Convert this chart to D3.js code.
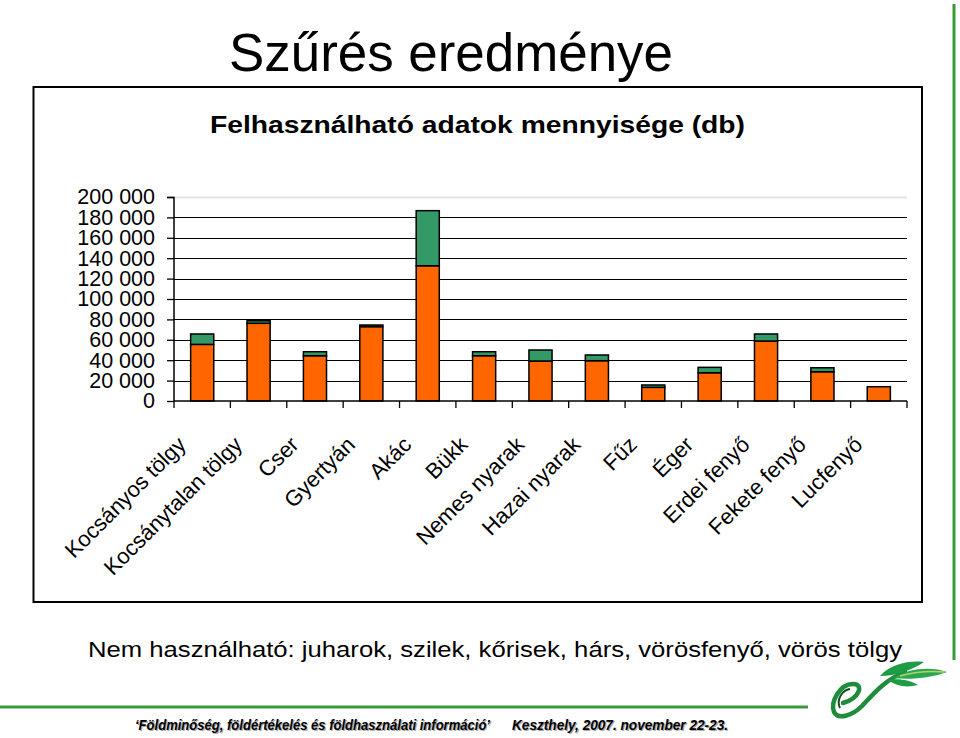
<!DOCTYPE html>
<html>
<head>
<meta charset="utf-8">
<script src="https://cdn.jsdelivr.net/npm/d3@7/dist/d3.min.js"></script>
<style>
  html, body { margin: 0; padding: 0; background: #fff; }
  svg { display: block; }
  text { font-family: "Liberation Sans", Arial, sans-serif; }
</style>
</head>
<body>
<svg id="chart" width="960" height="738"></svg>
<script>
// ---- data ----
const categories = ["Kocsányos tölgy", "Kocsánytalan tölgy", "Cser", "Gyertyán", "Akác", "Bükk",
  "Nemes nyarak", "Hazai nyarak", "Fűz", "Éger", "Erdei fenyő", "Fekete fenyő", "Lucfenyő"];
const seriesOrange = [55500, 76200, 44400, 72900, 132600, 44400, 39200, 39500, 13400, 27700, 58800, 28700, 14000];
const seriesGreen  = [10200, 2500, 3900, 1600, 54000, 3900, 10800, 5600, 2300, 5300, 6900, 3900, 0];
const yTicks = [0, 20000, 40000, 60000, 80000, 100000, 120000, 140000, 160000, 180000, 200000];
const titleText = "Szűrés eredménye";
const subtitleText = "Felhasználható adatok mennyisége (db)";
const noteText = "Nem használható: juharok, szilek, kőrisek, hárs, vörösfenyő, vörös tölgy";
const footerLeft = "‘Földminőség, földértékelés és földhasználati információ’";
const footerRight = "Keszthely, 2007. november 22-23.";

const svg = d3.select("#chart");
const fmt = d3.formatLocale({decimal: ",", thousands: " ", grouping: [3], currency: ["", ""]}).format(",d");

// decorative green lines
svg.append("line").attr("x1", 954).attr("x2", 954).attr("y1", 4).attr("y2", 660)
  .attr("stroke", "#3a9a3a").attr("stroke-width", 3);
svg.append("line").attr("x1", 0).attr("x2", 808).attr("y1", 707).attr("y2", 707)
  .attr("stroke", "#3a9a3a").attr("stroke-width", 3);

// title
svg.append("text").attr("x", 229).attr("y", 71).attr("font-size", 54)
  .attr("textLength", 444).attr("lengthAdjust", "spacingAndGlyphs").text(titleText);

// frame
svg.append("rect").attr("x", 33.5).attr("y", 87).attr("width", 888.5).attr("height", 515)
  .attr("fill", "none").attr("stroke", "#000").attr("stroke-width", 2);

// subtitle
svg.append("text").attr("x", 210).attr("y", 133).attr("font-size", 24).attr("font-weight", "bold")
  .attr("textLength", 535).attr("lengthAdjust", "spacingAndGlyphs").text(subtitleText);

// scales
const x = d3.scaleBand().domain(categories).range([174, 907]).paddingInner(0.59).paddingOuter(0.295);
const y = d3.scaleLinear().domain([0, 200000]).range([401, 197]);

// gridlines
const grid = svg.append("g");
grid.selectAll("line").data(yTicks.filter(d => d > 0)).join("line")
  .attr("x1", 174).attr("x2", 907)
  .attr("y1", d => Math.round(y(d)) + 0.5).attr("y2", d => Math.round(y(d)) + 0.5)
  .attr("stroke", d => d === 200000 ? "#e4e4e4" : "#000")
  .attr("stroke-width", d => d === 200000 ? 2 : 1.2);

// stacked bars
const stackData = categories.map((c, i) => ({cat: c, orange: seriesOrange[i], green: seriesGreen[i]}));
const stack = d3.stack().keys(["orange", "green"])(stackData);
const colors = {orange: "#FF6600", green: "#339966"};
svg.append("g").selectAll("g").data(stack).join("g")
  .attr("fill", d => colors[d.key])
  .selectAll("rect").data(d => d.filter(p => p[1] - p[0] > 0)).join("rect")
  .attr("x", d => x(d.data.cat))
  .attr("width", x.bandwidth())
  .attr("y", d => y(d[1]))
  .attr("height", d => y(d[0]) - y(d[1]))
  .attr("stroke", "#000").attr("stroke-width", 1.5);

// y axis
const yAxis = d3.axisLeft(y).tickValues(yTicks).tickSize(7).tickPadding(12).tickFormat(fmt);
const gy = svg.append("g").attr("transform", "translate(174,0)").call(yAxis);
gy.select(".domain").attr("stroke", "#000").attr("stroke-width", 1.5).attr("d", "M-7,197.5H0V401");
gy.selectAll(".tick line").attr("stroke", "#000").attr("stroke-width", 1.3);
gy.selectAll(".tick text").attr("font-size", 21.5).attr("fill", "#000")
  .attr("font-family", "'Liberation Sans', Arial, sans-serif");

// x axis
const step = x.step();
const xTickPos = d3.range(categories.length + 1).map(i => 174 + i * step);
svg.append("line").attr("x1", 174).attr("x2", 907).attr("y1", 401).attr("y2", 401)
  .attr("stroke", "#000").attr("stroke-width", 1.5);
svg.append("g").selectAll("line").data(xTickPos).join("line")
  .attr("x1", d => d).attr("x2", d => d).attr("y1", 401).attr("y2", 408)
  .attr("stroke", "#000").attr("stroke-width", 1.3);
svg.append("g").selectAll("text").data(categories).join("text")
  .attr("transform", d => `translate(${x(d) + x.bandwidth() / 2 - 15},446) rotate(-45)`)
  .attr("text-anchor", "end").attr("font-size", 22).text(d => d);

// note
svg.append("text").attr("x", 88).attr("y", 657).attr("font-size", 22)
  .attr("textLength", 814).attr("lengthAdjust", "spacingAndGlyphs").text(noteText);

// footer with shadow
function footer(txt, x0, len) {
  svg.append("text").attr("x", x0 + 1.2).attr("y", 731.2).attr("font-size", 14)
    .attr("font-weight", "bold").attr("font-style", "italic").attr("fill", "#aaa")
    .attr("textLength", len).attr("lengthAdjust", "spacingAndGlyphs").text(txt);
  svg.append("text").attr("x", x0).attr("y", 730).attr("font-size", 14)
    .attr("font-weight", "bold").attr("font-style", "italic").attr("fill", "#000")
    .attr("textLength", len).attr("lengthAdjust", "spacingAndGlyphs").text(txt);
}
footer(footerLeft, 135, 355);
footer(footerRight, 512, 216);

// logo (decorative)
const logo = svg.append("g");
logo.append("path").attr("d", "M843,703 C860,698 864,684 853,684 C840,684 830,702 834,712 C838,720 852,716 862,706 C875,692 885,680 905,672")
  .attr("fill", "none").attr("stroke", "#1e8c3a").attr("stroke-width", 4.5).attr("stroke-linecap", "round");
logo.append("path").attr("d", "M840,708 C836,700 842,690 850,689")
  .attr("fill", "none").attr("stroke", "#0d4a1e").attr("stroke-width", 2);
logo.append("path").attr("d", "M880,676 C890,664 910,660 924,662 C912,670 896,676 880,676 Z").attr("fill", "#1e9c45");
logo.append("path").attr("d", "M893,678 C908,668 932,666 947,672 C932,678 910,680 893,678 Z").attr("fill", "#2aa84f");
logo.append("path").attr("d", "M900,676 C915,672 932,671 944,672").attr("fill", "none").attr("stroke", "#b8d070").attr("stroke-width", 1.5);
logo.append("path").attr("d", "M888,680 C898,678 910,680 918,685 C906,688 896,686 888,680 Z").attr("fill", "#1e9c45");
</script>
</body>
</html>
